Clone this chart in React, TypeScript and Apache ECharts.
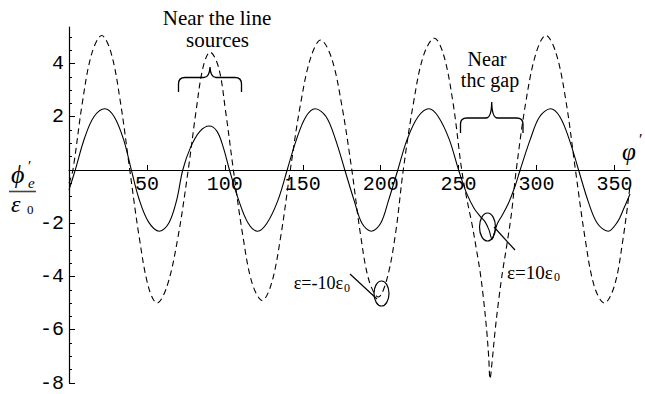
import React, { useEffect, useRef } from 'react';
import * as echarts from 'echarts';

// Axis ranges and tick labels
const PHI_MIN = 0;
const PHI_MAX = 360;
const Y_MIN = -8;
const Y_MAX = 5.37;
const X_TICKS = [50, 100, 150, 200, 250, 300, 350];
const Y_TICKS = [-8, -6, -4, -2, 2, 4];

// Normalised potential φ'_e/ε0 versus φ' for ε = 10ε0 (solid curve)
const epsPlus10: [number, number][] = [
  [0, -0.75], [4, 0], [10, 1.2], [16, 2.0], [23, 2.3], [29, 2.0], [35, 1.15], [40, 0],
  [45, -1.1], [51, -1.95], [58, -2.3], [64, -2.0], [69, -1.15], [73, 0],
  [78, 0.85], [84, 1.45], [90, 1.65], [95, 1.45], [99, 0.85], [103, 0],
  [109, -1.15], [115, -2.0], [121, -2.3], [127, -2.0], [134, -1.15], [140, 0],
  [146, 1.15], [152, 2.0], [158, 2.3], [165, 2.0], [171, 1.15], [177, 0],
  [183, -1.15], [188, -2.0], [194, -2.3], [200, -2.0], [205, -1.15], [211, 0],
  [217, 1.15], [224, 2.0], [231, 2.3], [237, 2.0], [244, 1.15], [250, 0],
  [255, -0.85], [260, -1.45], [264, -1.75], [267, -1.95], [269.5, -2.25], [271.5, -2.6],
  [273, -2.35], [275, -2.0], [278, -1.7], [282, -1.25], [286, -0.65], [289.5, 0],
  [296, 1.15], [302, 2.0], [309, 2.3], [315, 2.0], [321, 1.15], [327, 0],
  [333, -1.15], [339, -2.0], [346, -2.3], [352, -1.95], [356, -1.45], [360, -0.9],
];

// Same quantity for ε = −10ε0 (dashed curve)
const epsMinus10: [number, number][] = [
  [0, -0.5], [2.5, 0], [8.5, 2.5], [14.5, 4.35], [21, 5.05], [27, 4.4], [33, 2.55], [39, 0],
  [45, -2.5], [51, -4.4], [56.5, -5.0], [63, -4.35], [70, -2.5], [76.5, 0],
  [81.5, 2.2], [86, 3.85], [90.5, 4.43], [96, 3.85], [100.5, 2.2], [105.5, 0],
  [111.5, -2.45], [117.5, -4.25], [124, -4.9], [130, -4.25], [136, -2.45], [142, 0],
  [148.5, 2.45], [155, 4.2], [161.5, 4.88], [168.5, 4.2], [175, 2.45], [181.5, 0],
  [187, -2.4], [192.5, -4.15], [198.5, -4.77], [204, -4.1], [209.5, -2.4], [214.5, 0],
  [221, 2.5], [227.5, 4.3], [234.5, 4.95], [240.5, 4.3], [246.5, 2.5], [252, 0],
  [255.5, -1.15], [258.5, -2.0], [261.5, -3.0], [264, -3.9], [266, -4.85], [268, -6.0],
  [269.3, -7.0], [270.2, -7.85], [271.5, -7.2], [273.5, -6.0], [275.7, -4.9], [278, -3.9],
  [281, -2.8], [284, -1.6], [287, 0],
  [293, 2.5], [299.5, 4.35], [306, 5.06], [312.5, 4.4], [319, 2.55], [325, 0],
  [331, -2.5], [337, -4.35], [343.5, -5.0], [350, -4.35], [355.5, -2.6], [360, -0.6],
];

// Curly braces over the "line sources" and "gap" regions
const BRACES_D =
  'M178.5,92 L178.5,84 Q178.5,77.5 185,77.5 L204,77.5 Q209.5,77.5 210,67 ' +
  'Q210.5,77.5 216,77.5 L235,77.5 Q241.5,77.5 241.5,84 L241.5,92 ' +
  'M460.5,133 L460.5,124 Q460.5,118 467,118 L486,118 Q491.5,118 491.7,102 ' +
  'Q492,118 497.5,118 L516.5,118 Q523,118 523,124 L523,133';

echarts.graphic.registerShape('braces', echarts.graphic.extendPath(BRACES_D, {}));

const SERIF = 'Liberation Serif';
const MONO = 'Liberation Mono';

// plot-area geometry: the φ' axis is drawn at y = 0, lifted from the grid bottom
const GRID_TOP = 27;
const GRID_BOTTOM = 11;
const CHART_H = 394;
const PLOT_H = CHART_H - GRID_TOP - GRID_BOTTOM;
const ZERO_LIFT = (PLOT_H * (0 - Y_MIN)) / (Y_MAX - Y_MIN);

function label(
  text: string,
  x: number,
  y: number,
  size: number,
  opts: { align?: string; italic?: boolean } = {},
) {
  const style: any = {
    text,
    x,
    y,
    fontFamily: SERIF,
    fontSize: size,
    fill: '#000',
    align: opts.align || 'left',
    verticalAlign: 'middle',
  };
  if (opts.italic) style.fontStyle = 'italic';
  return { type: 'text', style };
}

export default function App() {
  const ref = useRef<HTMLDivElement>(null);

  useEffect(() => {
    document.body.style.margin = '0';
    if (!ref.current) return;
    const chart = echarts.init(ref.current, undefined, { renderer: 'svg' });

    const outline = () => ({ stroke: '#000', lineWidth: 1.2, fill: 'none' });

    chart.setOption({
      animation: false,
      grid: { left: 69, right: 15, top: GRID_TOP, bottom: GRID_BOTTOM },
      xAxis: {
        type: 'value',
        min: PHI_MIN,
        max: PHI_MAX,
        interval: 50,
        position: 'bottom',
        offset: -ZERO_LIFT,
        axisLine: { show: true, onZero: false, lineStyle: { color: '#000', width: 1.2 } },
        axisTick: { show: true, inside: true, length: 5, customValues: X_TICKS, lineStyle: { color: '#000' } },
        axisLabel: {
          customValues: X_TICKS,
          margin: 5,
          color: '#000',
          fontFamily: MONO,
          fontSize: 20,
          formatter: (v: number) => (X_TICKS.includes(v) ? String(v) : ''),
        },
        splitLine: { show: false },
      },
      yAxis: {
        type: 'value',
        min: Y_MIN,
        max: Y_MAX,
        interval: 2,
        axisLine: { show: true, onZero: false, lineStyle: { color: '#000', width: 1.2 } },
        axisTick: { show: true, inside: true, length: 6, customValues: Y_TICKS, lineStyle: { color: '#000' } },
        minorTick: { show: true, splitNumber: 4, length: 3, lineStyle: { color: '#000' } },
        axisLabel: {
          customValues: Y_TICKS,
          margin: 5,
          color: '#000',
          fontFamily: MONO,
          fontSize: 20,
          formatter: (v: number) => (Y_TICKS.includes(v) ? String(v) : ''),
        },
        splitLine: { show: false },
      },
      series: [
        {
          type: 'line',
          data: epsMinus10,
          symbol: 'none',
          smooth: 0.35,
          lineStyle: { color: '#000', width: 1.1, type: [6, 4] },
          z: 2,
        },
        {
          type: 'line',
          data: epsPlus10,
          symbol: 'none',
          smooth: 0.35,
          lineStyle: { color: '#000', width: 1.1 },
          z: 3,
        },
      ],
      graphic: [
        label('Near the line', 217, 18, 21, { align: 'center' }),
        label('sources', 217.5, 40, 21, { align: 'center' }),
        label('Near', 487, 59, 20, { align: 'center' }),
        label('thc gap', 490, 80, 20, { align: 'center' }),

        // ε = −10ε0 callout
        label('ε=-10ε', 343, 282.5, 18, { align: 'right' }),
        label('0', 344, 287.5, 12),

        // ε = 10ε0 callout
        label('ε=10ε', 507, 272, 19),
        label('0', 554, 277, 12),

        // axis name φ'
        label('φ', 622, 151, 25, { italic: true }),
        label('′', 639, 139, 16),

        // vertical quantity φ'_e / ε0
        label('ϕ', 11, 174, 26, { italic: true }),
        label('′', 28, 166, 15),
        label('e', 28, 183, 15, { italic: true }),
        label('ε', 11, 204, 24, { italic: true }),
        label('0', 27, 209.5, 13),

        { type: 'braces', x: 0, y: 0, style: { ...outline(), lineWidth: 1.3 } },
        { type: 'ellipse', shape: { cx: 381.5, cy: 293.5, rx: 7.5, ry: 12.5 }, style: outline() },
        { type: 'line', shape: { x1: 350, y1: 274, x2: 377, y2: 299 }, style: outline() },
        { type: 'ellipse', shape: { cx: 487.5, cy: 227, rx: 8, ry: 14 }, style: outline() },
        { type: 'line', shape: { x1: 494, y1: 227, x2: 515, y2: 250 }, style: outline() },
        { type: 'line', shape: { x1: 9, y1: 191.5, x2: 36, y2: 191.5 }, style: { stroke: '#444', lineWidth: 1.6 } },
      ],
    });

    return () => chart.dispose();
  }, []);

  return <div ref={ref} style={{ width: 645, height: 394 }} />;
}
